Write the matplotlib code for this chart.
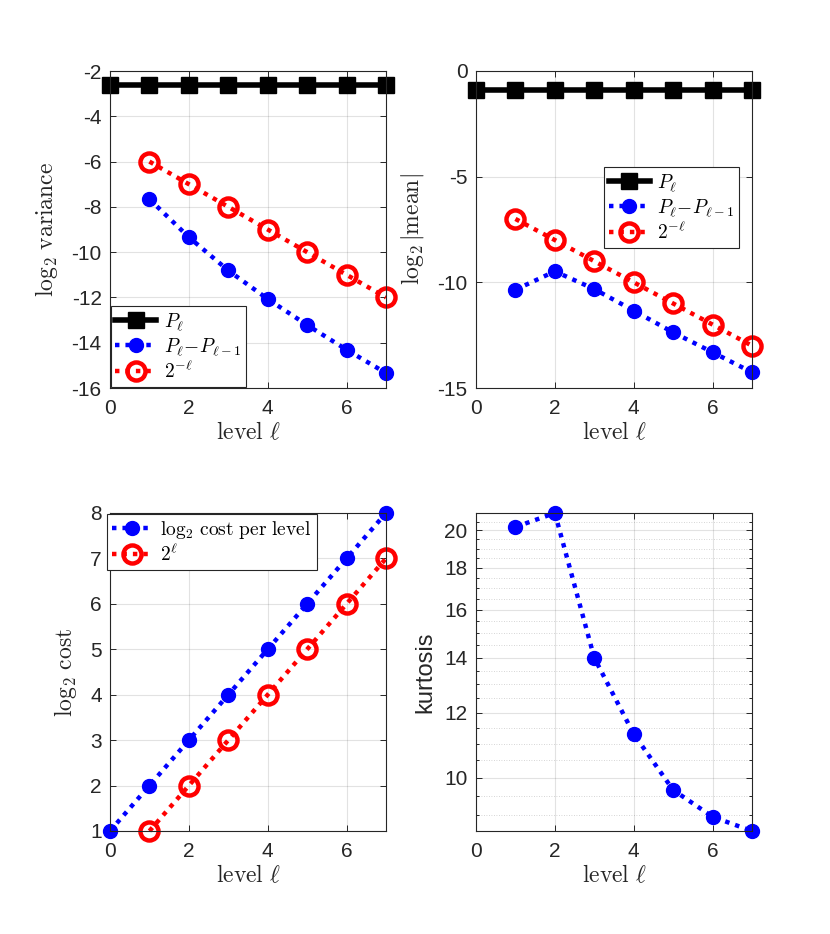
import matplotlib
matplotlib.use('Agg')
import matplotlib.pyplot as plt
from matplotlib.ticker import FixedLocator, MultipleLocator, NullFormatter, FuncFormatter

plt.rcParams['font.family'] = ['Liberation Sans', 'DejaVu Sans']
plt.rcParams['mathtext.fontset'] = 'cm'
plt.rcParams['axes.unicode_minus'] = False

# ---- data ----
levels = [0, 1, 2, 3, 4, 5, 6, 7]
levels1 = [1, 2, 3, 4, 5, 6, 7]

var_P = [-2.62, -2.62, -2.62, -2.62, -2.62, -2.62, -2.62, -2.62]
var_dP = [-7.66, -9.34, -10.81, -12.07, -13.22, -14.31, -15.34]
var_ref = [-6, -7, -8, -9, -10, -11, -12]

mean_P = [-0.90, -0.90, -0.90, -0.90, -0.90, -0.90, -0.90, -0.90]
mean_dP = [-10.35, -9.48, -10.32, -11.34, -12.37, -13.31, -14.26]
mean_ref = [-7, -8, -9, -10, -11, -12, -13]

cost = [1, 2, 3, 4, 5, 6, 7, 8]
cost_ref = [1, 2, 3, 4, 5, 6, 7]

kurt = [20.19, 21.0, 13.99, 11.30, 9.66, 8.96, 8.61]

# ---- styles ----
AX = (0.15, 0.15, 0.15)
black_kw = dict(color='black', lw=4, marker='s', ms=11, clip_on=False)
blue_kw = dict(color='blue', lw=3.2, marker='o', ms=10, dashes=(1, 1.35),
               dash_capstyle='butt', clip_on=False)
red_kw = dict(color='red', lw=3.2, marker='o', ms=13, mew=3.2, mfc='none',
              dashes=(1, 1.35), dash_capstyle='butt', clip_on=False)

W, H = 830, 934
fig = plt.figure(figsize=(W / 100, H / 100), dpi=100)


def mkax(l, r, t, b):
    return fig.add_axes([l / W, 1 - b / H, (r - l) / W, (b - t) / H])


def style(ax):
    for s in ax.spines.values():
        s.set_color(AX)
        s.set_linewidth(0.8)
    ax.tick_params(direction='in', which='both', top=True, right=True,
                   colors=AX, labelsize=15, length=4, width=0.7)
    ax.tick_params(axis='x', pad=8)
    ax.tick_params(axis='y', pad=6)
    ax.tick_params(which='minor', length=2.5)
    ax.grid(True, which='major', color=AX, alpha=0.13, lw=0.8)
    ax.set_axisbelow(True)
    ax.set_xlim(0, 7)
    ax.set_xticks([0, 2, 4, 6])
    ax.set_xlabel(r'$\mathrm{level}\ \ell$', fontsize=17, color=AX, labelpad=2)


def legend(ax, handles, labels, x, y):
    lg = fig.legend(handles, labels, loc='upper left',
                    bbox_to_anchor=(x / W, 1 - y / H), bbox_transform=fig.transFigure,
                    borderaxespad=0, fancybox=False, framealpha=1, fontsize=14,
                    numpoints=1, handlelength=2.1, handletextpad=0.4,
                    borderpad=0.25, labelspacing=0.15)
    lg.get_frame().set_edgecolor(AX)
    lg.get_frame().set_linewidth(0.8)
    return lg


# ---- top-left: variance ----
ax1 = mkax(110, 386, 71, 388)
style(ax1)
h1, = ax1.plot(levels, var_P, **black_kw)
h2, = ax1.plot(levels1, var_dP, **blue_kw)
h3, = ax1.plot(levels1, var_ref, **red_kw)
ax1.set_ylim(-16, -2)
ax1.set_yticks(range(-16, -1, 2))
ax1.set_ylabel(r'$\log_2\,\mathrm{variance}$', fontsize=17, color=AX, labelpad=8)
legend(ax1, [h1, h2, h3], [r'$P_\ell$', r'$P_\ell\!-\!P_{\ell-1}$', r'$2^{-\ell}$'], 110.5, 306)

# ---- top-right: mean ----
ax2 = mkax(476, 752, 71, 388)
style(ax2)
g1, = ax2.plot(levels, mean_P, **black_kw)
g2, = ax2.plot(levels1, mean_dP, **blue_kw)
g3, = ax2.plot(levels1, mean_ref, **red_kw)
ax2.set_ylim(-15, 0)
ax2.set_yticks([-15, -10, -5, 0])
ax2.set_ylabel(r'$\log_2|\mathrm{mean}|$', fontsize=17, color=AX, labelpad=8)
legend(ax2, [g1, g2, g3], [r'$P_\ell$', r'$P_\ell\!-\!P_{\ell-1}$', r'$2^{-\ell}$'], 604, 167)

# ---- bottom-left: cost ----
ax3 = mkax(110, 386, 513, 831)
style(ax3)
c1, = ax3.plot(levels, cost, **blue_kw)
c2, = ax3.plot(levels1, cost_ref, **red_kw)
ax3.set_ylim(1, 8)
ax3.set_yticks(range(1, 9))
ax3.set_ylabel(r'$\log_2\,\mathrm{cost}$', fontsize=17, color=AX, labelpad=8)
legend(ax3, [c1, c2], [r'$\log_2\,\mathrm{cost\ per\ level}$', r'$2^\ell$'], 107, 514)

# ---- bottom-right: kurtosis ----
ax4 = mkax(476, 752, 513, 831)
style(ax4)
ax4.plot(levels1, kurt, **blue_kw)
ax4.set_yscale('log')
ax4.set_ylim(min(kurt), max(kurt))
ax4.yaxis.set_major_locator(FixedLocator([10, 12, 14, 16, 18, 20]))
ax4.yaxis.set_major_formatter(FuncFormatter(lambda v, p: f'{v:g}'))
ax4.yaxis.set_minor_locator(MultipleLocator(0.5))
ax4.yaxis.set_minor_formatter(NullFormatter())
ax4.grid(True, which='minor', axis='y', color=AX, alpha=0.25, lw=0.6, ls=(0, (1, 2)))
ax4.tick_params(which='minor', axis='x', bottom=False, top=False)
ax4.set_ylabel('kurtosis', fontsize=17, color=AX, labelpad=6)

fig.savefig('out.png', dpi=100)
